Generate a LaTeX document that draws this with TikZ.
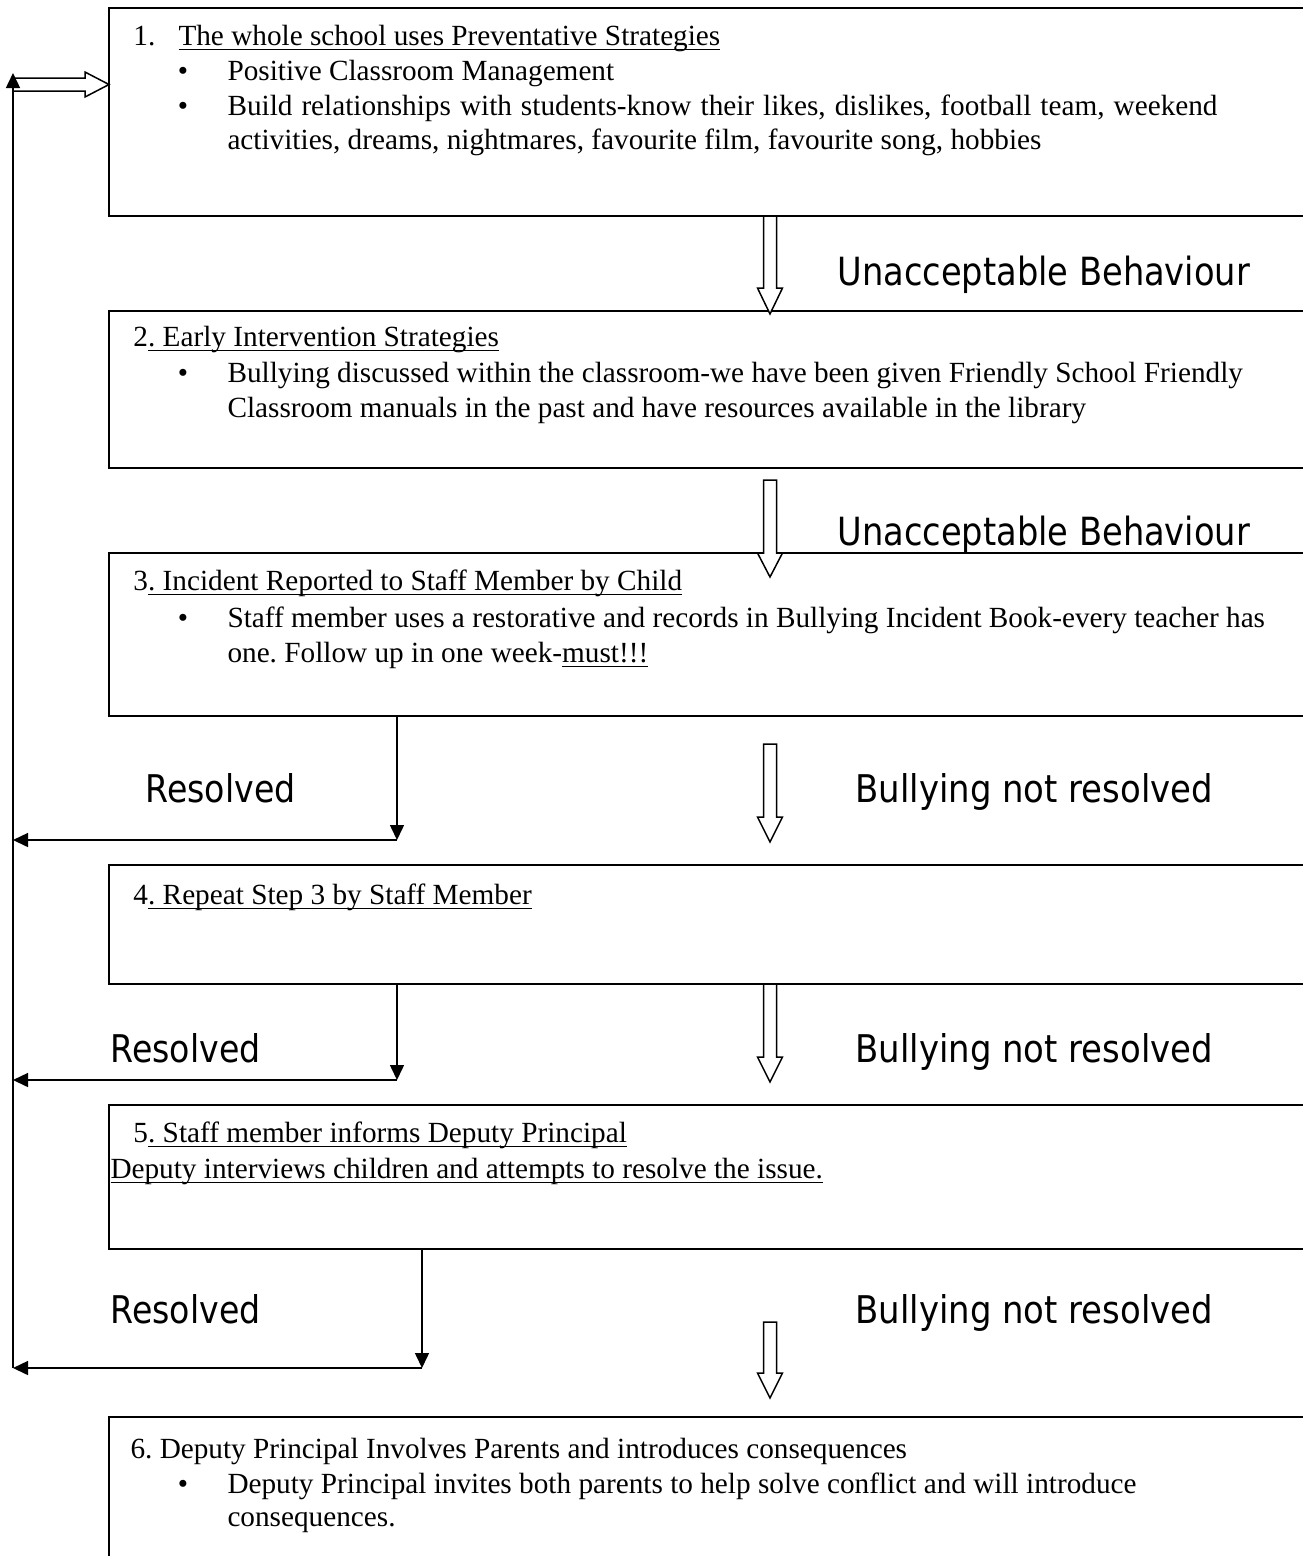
\documentclass[tikz,border=0pt]{standalone}
\usepackage{fontspec}
\usepackage{graphicx}
\setmainfont{Liberation Serif}
\newfontfamily\lblfont{DejaVu Sans}
\usetikzlibrary{arrows.meta}
\frenchspacing
\newcommand\myul[1]{\setbox0\hbox{#1}\rlap{\rule[-1.9pt]{\wd0}{0.5pt}}\box0}
\newcommand\hollowdown[4]{\draw[hollow] (#1-6.5,#2) -- (#1-6.5,#3) -- (#1-12.5,#3) -- (#1,#4) -- (#1+12.5,#3) -- (#1+6.5,#3) -- (#1+6.5,#2) -- cycle;}
\tikzset{
  stepbox/.style={draw, line width=0.65pt, anchor=north west, inner sep=0pt, outer sep=0pt, minimum width=490pt},
  txt/.style={anchor=base west, inner sep=0pt, font=\fontsize{11.7}{14}\selectfont},
  bul/.style={anchor=base, inner sep=0pt, font=\fontsize{11.7}{14}\selectfont},
  lbl/.style={anchor=base west, inner sep=0pt, font=\lblfont\fontsize{14}{16}\selectfont},
  thinarr/.style={line width=0.6pt, -{Triangle[width=5.6pt,length=6pt]}},
  hollow/.style={draw, line width=0.6pt, fill=white, line join=miter},
}
\begin{document}
\begin{tikzpicture}[x=0.4pt,y=-0.4pt]
\useasboundingbox (0,0) rectangle (1303,1556);
\clip (0,0) rectangle (1303,1556);
% boxes
\node[stepbox, minimum height=83.2pt] (b1) at (109,8) {};
\node[stepbox, minimum height=62.8pt] (b2) at (109,311) {};
\node[stepbox, minimum height=65.2pt] (b3) at (109,553) {};
\node[stepbox, minimum height=47.6pt] (b4) at (109,865) {};
\node[stepbox, minimum height=57.6pt] (b5) at (109,1105) {};
\node[stepbox, minimum height=80pt] (b6) at (109,1417) {};
% box 1 text
\node[txt] (t1n) at (133,45) {1.};
\node[txt] (t1) at (178,45) {\myul{The whole school uses Preventative Strategies}};
\node[bul] (u1a) at (183,80) {•};
\node[txt] (t1a) at (227,80) {Positive Classroom Management};
\node[bul] (u1b) at (183,115) {•};
\node[txt] (t1b) at (227,115) {\makebox[396pt][s]{Build relationships with students-know their likes, dislikes, football team, weekend}};
\node[txt] (t1c) at (227,149) {activities, dreams, nightmares, favourite film, favourite song, hobbies};
% box 2 text
\node[txt] (t2) at (133,346) {2\myul{. Early Intervention Strategies}};
\node[bul] (u2a) at (183,382) {•};
\node[txt] (t2a) at (227,382) {Bullying discussed within the classroom-we have been given Friendly School Friendly};
\node[txt] (t2b) at (227,417) {Classroom manuals in the past and have resources available in the library};
% box 3 text
\node[txt] (t3) at (133,590) {3\myul{. Incident Reported to Staff Member by Child}};
\node[bul] (u3a) at (183,627) {•};
\node[txt] (t3a) at (227,627) {Staff member uses a restorative and records in Bullying Incident Book-every teacher has};
\node[txt] (t3b) at (227,662) {one. Follow up in one week-\myul{must!!!}};
% box 4 text
\node[txt] (t4) at (133,904) {4\myul{. Repeat Step 3 by Staff Member}};
% box 5 text
\node[txt] (t5) at (133,1142) {5\myul{. Staff member informs Deputy Principal}};
\node[txt] (t5a) at (110,1178) {\myul{Deputy interviews children and attempts to resolve the issue.}};
% box 6 text
\node[txt] (t6) at (130,1458) {6. Deputy Principal Involves Parents and introduces consequences};
\node[bul] (u6a) at (183,1493) {•};
\node[txt] (t6a) at (227,1493) {Deputy Principal invites both parents to help solve conflict and will introduce};
\node[txt] (t6b) at (227,1526) {consequences.};
% hollow down arrows
\hollowdown{770}{216}{288}{314}
\hollowdown{770}{480}{553}{577}
\hollowdown{770}{744}{817}{842}
\hollowdown{770}{984}{1057}{1082}
\hollowdown{770}{1322}{1373}{1398}
% labels
\node[lbl] (l1) at (837,285) {\resizebox{165pt}{11.8pt}{Unacceptable Behaviour}};
\node[lbl] (l2) at (837,545) {\resizebox{165pt}{11.8pt}{Unacceptable Behaviour}};
\node[lbl] (l3) at (145,802) {\resizebox{60pt}{11.6pt}{Resolved}};
\node[lbl] (l4) at (855,802) {\resizebox{143pt}{11.6pt}{Bullying not resolved}};
\node[lbl] (l5) at (110,1062) {\resizebox{60pt}{11.6pt}{Resolved}};
\node[lbl] (l6) at (855,1062) {\resizebox{143pt}{11.6pt}{Bullying not resolved}};
\node[lbl] (l7) at (110,1323) {\resizebox{60pt}{11.6pt}{Resolved}};
\node[lbl] (l8) at (855,1323) {\resizebox{143pt}{11.6pt}{Bullying not resolved}};
% return spine
\coordinate (spinetop) at (13,73);
\coordinate (spinebot) at (13,1368);
\coordinate (r3) at (397,840);
\coordinate (r4) at (397,1080);
\coordinate (r5) at (422,1368);
\draw[thinarr] (b3.south west -| r3) -- (r3);
\draw[thinarr] (r3) -- (r3 -| spinetop);
\draw[thinarr] (b4.south west -| r4) -- (r4);
\draw[thinarr] (r4) -- (r4 -| spinetop);
\draw[thinarr] (b5.south west -| r5) -- (r5);
\draw[thinarr] (r5) -- (spinebot);
\draw[thinarr] (spinebot) -- (spinetop);
% double arrow into box 1
\coordinate (d0) at (13,84.5);
\draw[hollow, fill=none] (d0 |- 0,78) -- (85,78) -- (85,72) -- (b1.north west |- d0) -- (85,97) -- (85,91) -- (d0 |- 0,91);
\end{tikzpicture}
\end{document}
